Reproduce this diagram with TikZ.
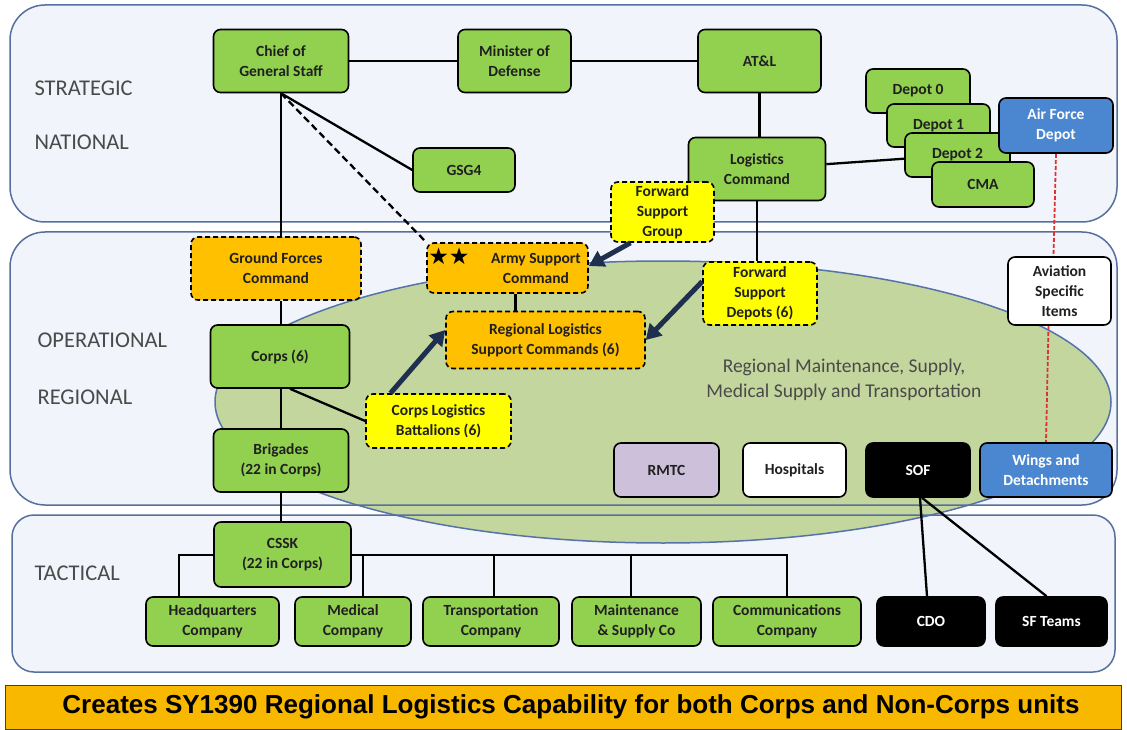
\documentclass[tikz,border=0pt]{standalone}
\usepackage{fontspec}
\setmainfont{Carlito}
\newfontfamily\arialfont{Liberation Sans}
\newfontfamily\symfont{DejaVu Sans}
\usetikzlibrary{arrows.meta,calc}
\pgfdeclarelayer{bg}
\pgfdeclarelayer{edges}
\pgfsetlayers{bg,edges,main}
\definecolor{grn}{HTML}{92D050}
\definecolor{org}{HTML}{FFC000}
\definecolor{ylw}{HTML}{FFFF00}
\definecolor{afblue}{HTML}{4B87D0}
\definecolor{lav}{HTML}{CCC0DA}
\definecolor{ellfill}{HTML}{C3D69D}
\definecolor{ellline}{HTML}{5573A8}
\definecolor{panelfill}{HTML}{F1F4FA}
\definecolor{panelline}{HTML}{56709E}
\definecolor{banner}{HTML}{F9B800}
\definecolor{navy}{HTML}{1F2F4F}
\definecolor{lvl}{HTML}{4A4A4A}
\definecolor{txt}{HTML}{202020}
\definecolor{redd}{HTML}{E03030}
\begin{document}
\begin{tikzpicture}[x=1pt,y=-1pt,
  sz/.style 2 args={minimum width=#1pt, minimum height=#2pt},
  box/.style={draw=black, line width=1.6pt, rounded corners=7pt, align=center, inner sep=1pt,
              font=\fontsize{15.5}{20}\selectfont\bfseries, text=txt},
  gbox/.style={box, fill=grn},
  obox/.style={box, fill=org, dash pattern=on 5pt off 3pt},
  ybox/.style={box, fill=ylw, dash pattern=on 5pt off 3pt},
  bbox/.style={box, fill=afblue, text=white},
  kbox/.style={box, fill=black, text=white},
  wbox/.style={box, fill=white},
  lbox/.style={box, fill=lav},
  link/.style={draw=black, line width=2.3pt},
  tlink/.style={draw=black, line width=2pt},
  dlink/.style={draw=black, line width=2.3pt, dash pattern=on 7pt off 4pt},
  rlink/.style={draw=redd, line width=1.8pt, dash pattern=on 4pt off 2pt},
  bigarrow/.style={draw=navy, line width=5pt, -{Triangle[length=15pt,width=17pt]}},
  level/.style={anchor=west, font=\fontsize{22.5}{22.5}\selectfont, text=lvl},
  panel/.style={draw=panelline, line width=1.5pt, rounded corners=35pt}
]
\useasboundingbox (0,0) rectangle (1127,730);

% ---------- nodes ----------
\node[gbox, sz={135}{63}] (cgs) at (281,61) {Chief of\\General Staff};
\node[gbox, sz={113}{63}] (mod) at (514.5,61) {Minister of\\Defense};
\node[gbox, sz={123}{63}] (atl) at (759.5,61) {AT\&L};
\node[gbox, sz={102}{44}] (gsg) at (464,170) {GSG4};
\node[gbox, sz={137}{63}] (lc) at (757,169) {Logistics\\Command};
\node[gbox, sz={104}{44}] (d0) at (918,91) {Depot 0};
\node[gbox, sz={103}{43}] (d1) at (938.5,125.5) {Depot 1};
\node[gbox, sz={105}{44}] (d2) at (957.5,155) {Depot 2};
\node[gbox, sz={102}{45}] (cma) at (983,184.5) {CMA};
\node[bbox, sz={114}{55}] (afd) at (1056,125.5) {Air Force\\Depot};

\node[obox, sz={170}{63}] (gfc) at (276,268.5) {Ground Forces\\Command};
\node[obox, sz={161}{50}] (asc) at (507.5,268) {};
\node[font=\fontsize{15.5}{20}\selectfont\bfseries, text=txt, align=center] (asct) at (536,268) {Army Support\\Command};
\node[font=\symfont\fontsize{23}{23}\selectfont, inner sep=0pt] (stars) at (449,256) {★★};
\node[obox, sz={199}{57}] (rlsc) at (545.5,340) {Regional Logistics\\Support Commands (6)};
\node[ybox, sz={103}{60}] (fsg) at (662.5,212) {Forward\\Support\\Group};
\node[ybox, sz={114}{63}] (fsd) at (760,293.5) {Forward\\Support\\Depots (6)};
\node[ybox, sz={145}{54}] (clb) at (438.5,421) {Corps Logistics\\Battalions (6)};
\node[gbox, sz={139}{63}] (corps) at (280,356.5) {Corps (6)};
\node[gbox, sz={135}{63}] (brig) at (281,460.5) {Brigades\\(22 in Corps)};
\node[lbox, sz={105}{54}] (rmtc) at (666.5,470) {RMTC};
\node[wbox, sz={103}{54}] (hosp) at (794.5,470) {Hospitals};
\node[kbox, sz={104}{54}] (sof) at (918,470) {SOF};
\node[bbox, sz={132}{54}] (wings) at (1046,470) {Wings and\\Detachments};
\node[wbox, sz={103}{68}] (asi) at (1059.5,291) {Aviation\\Specific\\Items};

\node[gbox, sz={137}{65}] (cssk) at (282.5,554.5) {CSSK\\(22 in Corps)};
\node[gbox, sz={133}{49}] (hq) at (212.5,621.5) {Headquarters\\Company};
\node[gbox, sz={116}{49}] (med) at (353,621.5) {Medical\\Company};
\node[gbox, sz={136}{49}] (trans) at (491,621.5) {Transportation\\Company};
\node[gbox, sz={129}{49}] (maint) at (636.5,621.5) {Maintenance\\\& Supply Co};
\node[gbox, sz={148}{49}] (comm) at (787,621.5) {Communications\\Company};
\node[kbox, sz={108}{49}] (cdo) at (931,621.5) {CDO};
\node[kbox, sz={111}{49}] (sft) at (1051.5,621.5) {SF Teams};

% level labels
\node[level] (lstrat) at (31,88) {STRATEGIC};
\node[level] (lnat) at (31,142) {NATIONAL};
\node[level] (lop) at (34,340) {OPERATIONAL};
\node[level] (lreg) at (34,397) {REGIONAL};
\node[level] (ltac) at (31,573) {TACTICAL};

% ellipse text
\node[font=\fontsize{19.5}{25}\selectfont, text=lvl, align=center] (elltxt) at (844,380)
  {Regional Maintenance, Supply,\\Medical Supply and Transportation};

% banner
\node[draw=black!75, line width=1pt, fill=banner, minimum width=1116pt, minimum height=44pt, inner sep=0pt] (ban) at (563.5,707) {};
\node[font=\arialfont\bfseries\fontsize{26}{26}\selectfont, text=black, inner sep=0pt] (bantxt) at (571,707)
  {Creates SY1390 Regional Logistics Capability for both Corps and Non-Corps units};

% ---------- background ----------
\begin{pgfonlayer}{bg}
  \fill[panelfill, rounded corners=35pt] (10,5) rectangle (1117,222);
  \fill[panelfill, rounded corners=35pt] (10,232) rectangle (1117,505);
  \fill[panelfill, rounded corners=22pt] (12,515) rectangle (1115,672);
  \filldraw[fill=ellfill, draw=ellline, line width=1.5pt] (663,402) ellipse [x radius=448pt, y radius=141pt];
  \draw[panel] (10,5) rectangle (1117,222);
  \draw[panel] (10,232) rectangle (1117,505);
  \draw[panel, rounded corners=22pt] (12,515) rectangle (1115,672);
\end{pgfonlayer}

% ---------- connectors ----------
\begin{pgfonlayer}{edges}
  \draw[link] (cgs.east) -- (mod.west);
  \draw[link] (mod.east) -- (atl.west);
  \draw[link] (atl.south) -- (atl.south |- lc.north);
  \draw[link] (lc) -- (d2);
  \draw[link] (lc.south) -- (lc.south |- fsd.north);
  \draw[link] (cgs.south) -- (gsg.west);
  \draw[link] (cgs.south) -- (cgs.south |- gfc.north);
  \draw[dlink] (cgs.south) -- (asc.north west);
  \draw[link] (cgs.south |- gfc.south) -- (cgs.south |- corps.north);
  \draw[link] (cgs.south |- corps.south) -- (cgs.south |- brig.north);
  \draw[link] (cgs.south |- brig.south) -- (cgs.south |- cssk.north);
  \draw[link] ([xshift=10pt]corps.south) -- (clb.west);
  \draw[link] ([xshift=8pt]asc.south) -- ([xshift=8pt]asc.south |- rlsc.north);
  \draw[rlink] (afd.south) -- ([xshift=-6pt]asi.north);
  \draw[rlink] ([xshift=-11pt]asi.south) -- (wings.north);
  \draw[link] ([xshift=2pt]sof.south) -- ([xshift=-4pt]cdo.north);
  \draw[link] ([xshift=4pt]sof.south) -- ([xshift=-5pt]sft.north);
  % tactical bus
  \draw[tlink] (cssk.west) -| ([xshift=-34pt]hq.north);
  \draw[tlink] (cssk.east) -- (comm.north |- cssk.east) -- (comm.north);
  \draw[tlink] ([xshift=10pt]med.north |- cssk.east) -- ([xshift=10pt]med.north);
  \draw[tlink] ([xshift=3pt]trans.north |- cssk.east) -- ([xshift=3pt]trans.north);
  \draw[tlink] ([xshift=-6pt]maint.north |- cssk.east) -- ([xshift=-6pt]maint.north);
\end{pgfonlayer}

% thick arrows
\draw[bigarrow] ([xshift=-48pt]clb.north) -- ([yshift=10pt]rlsc.west);
\draw[bigarrow] ([xshift=-32pt]fsg.south) -- ([yshift=2pt]asc.east);
\draw[bigarrow] ([yshift=12pt]fsd.west) -- (rlsc.east);
\end{tikzpicture}
\end{document}
